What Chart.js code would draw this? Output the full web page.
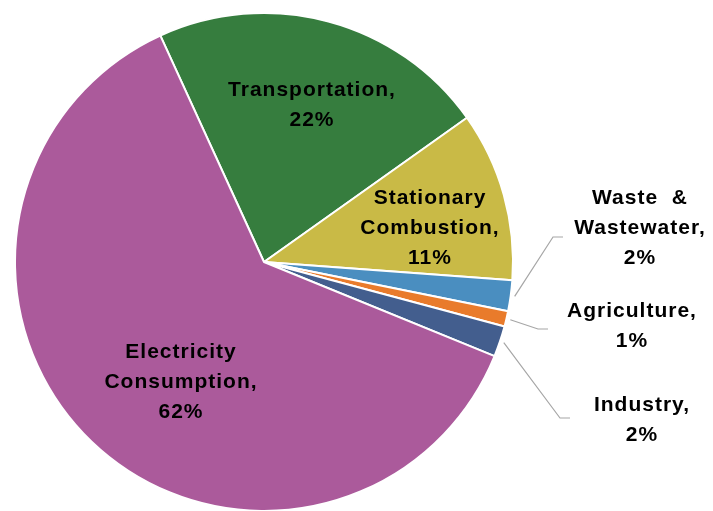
<!DOCTYPE html>
<html>
<head>
<meta charset="utf-8">
<script src="https://cdn.jsdelivr.net/npm/chart.js@4"></script>
<style>
  html, body { margin: 0; padding: 0; background: #ffffff; }
  canvas { display: block; }
</style>
</head>
<body>
<canvas id="c" width="713" height="511"></canvas>
<script>
// ---- data ----
const categories = ["Transportation", "Stationary Combustion", "Waste & Wastewater", "Agriculture", "Industry", "Electricity Consumption"];
const labelLines = [["Transportation,"], ["Stationary", "Combustion,"], ["Waste  &", "Wastewater,"], ["Agriculture,"], ["Industry,"], ["Electricity", "Consumption,"]];
const shares = [22, 11, 2, 1, 2, 62];
const sliceColors = ["#367D3E", "#C9BA46", "#4A8EC0", "#E97B2B", "#435E8E", "#AB5A9B"];

// label layout (text block centre offset from pie centre, in px) and leader elbows for outside labels
const labelLayout = [
  { dx: 48, dy: -157 },
  { dx: 166, dy: -34 },
  { dx: 376, dy: -34, elbow: { dx: 289, dy: -25 }, end: { dx: 299 } },
  { dx: 368, dy: 64, elbow: { dx: 274, dy: 67 }, end: { dx: 284 } },
  { dx: 378, dy: 158, elbow: { dx: 296, dy: 156 }, end: { dx: 306 } },
  { dx: -83, dy: 120 }
];

const labelPlugin = {
  id: 'sliceLabels',
  afterDatasetsDraw(chart) {
    const ctx = chart.ctx;
    const meta = chart.getDatasetMeta(0);
    ctx.save();
    ctx.font = 'bold 21px "Liberation Sans", Arial, sans-serif';
    if ('letterSpacing' in ctx) ctx.letterSpacing = '1px';
    ctx.fillStyle = '#000000';
    ctx.textAlign = 'center';
    ctx.textBaseline = 'middle';
    const lineH = 30;
    meta.data.forEach((arc, i) => {
      const p = arc.getProps(['x', 'y', 'startAngle', 'endAngle', 'outerRadius'], true);
      const lay = labelLayout[i];
      if (lay.elbow) {
        const mid = (p.startAngle + p.endAngle) / 2;
        const r0 = p.outerRadius + 4;
        ctx.beginPath();
        ctx.strokeStyle = '#A6A6A6';
        ctx.lineWidth = 1.2;
        ctx.moveTo(p.x + Math.cos(mid) * r0, p.y + Math.sin(mid) * r0);
        ctx.lineTo(p.x + lay.elbow.dx, p.y + lay.elbow.dy);
        ctx.lineTo(p.x + lay.end.dx, p.y + lay.elbow.dy);
        ctx.stroke();
      }
      const lines = labelLines[i].concat([shares[i] + '%']);
      const cx = p.x + lay.dx;
      const cy = p.y + lay.dy;
      const top = cy - (lines.length - 1) * lineH / 2;
      lines.forEach((t, k) => {
        ctx.fillText(t, cx, top + k * lineH);
      });
    });
    ctx.restore();
  }
};

new Chart(document.getElementById('c'), {
  type: 'pie',
  data: {
    labels: categories,
    datasets: [{
      data: shares,
      backgroundColor: sliceColors,
      borderColor: '#ffffff',
      borderWidth: 2,
      radius: 249
    }]
  },
  options: {
    responsive: false,
    animation: false,
    rotation: -24.6,
    layout: { padding: { left: 15, right: 200, top: 13, bottom: 0 } },
    plugins: {
      legend: { display: false },
      tooltip: { enabled: false }
    }
  },
  plugins: [labelPlugin]
});
</script>
</body>
</html>
